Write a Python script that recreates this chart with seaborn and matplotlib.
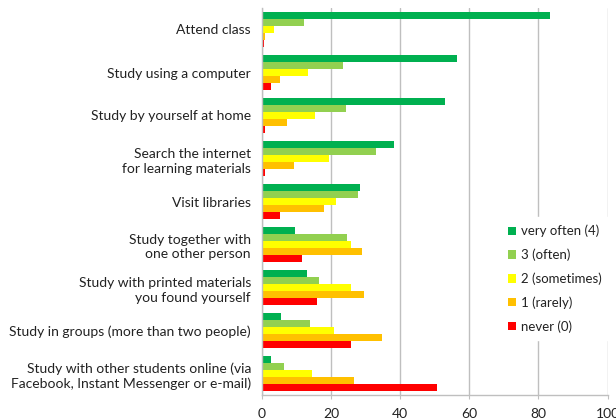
import matplotlib
matplotlib.use("Agg")
import matplotlib.pyplot as plt
import seaborn as sns
import pandas as pd
from matplotlib.patches import Patch

categories = [
    "Attend class",
    "Study using a computer",
    "Study by yourself at home",
    "Search the internet\nfor learning materials",
    "Visit libraries",
    "Study together with\none other person",
    "Study with printed materials\nyou found yourself",
    "Study in groups (more than two people)",
    "Study with other students online (via\nFacebook, Instant Messenger or e-mail)",
]
series_names = ["very often (4)", "3 (often)", "2 (sometimes)", "1 (rarely)", "never (0)"]
very_often = [83.3, 56.4, 53.0, 38.1, 28.5, 9.6, 12.9, 5.6, 2.6]
often = [12.2, 23.4, 24.4, 32.9, 27.8, 24.6, 16.6, 14.0, 6.4]
sometimes = [3.6, 13.2, 15.2, 19.4, 21.4, 25.9, 25.9, 20.8, 14.6]
rarely = [1.0, 5.3, 7.3, 9.2, 17.9, 29.0, 29.6, 34.7, 26.7]
never = [0.6, 2.5, 1.0, 1.0, 5.2, 11.6, 15.8, 25.8, 50.6]
colors = ["#00B050", "#92D050", "#FFFF00", "#FFC000", "#FF0000"]
xticks = [0, 20, 40, 60, 80, 100]

rows = []
for name, vals in zip(series_names, [very_often, often, sometimes, rarely, never]):
    for c, v in zip(categories, vals):
        rows.append({"category": c, "series": name, "value": v})
df = pd.DataFrame(rows)

sns.set_style("white")
plt.rcParams["font.family"] = ["Lato", "DejaVu Sans"]

fig = plt.figure(figsize=(6.16, 4.19), dpi=100)
ax = fig.add_axes([262 / 616, 1 - 395 / 419, (607.5 - 262) / 616, (395 - 8) / 419])

sns.barplot(data=df, y="category", x="value", hue="series", order=categories,
            hue_order=series_names, palette=colors, orient="h", width=0.8,
            ax=ax, legend=False, linewidth=0, saturation=1)

ax.set_xlim(0, 100)
ax.set_xticks(xticks)
ax.set_xticklabels([str(t) for t in xticks], fontsize=10, color="#222222")
ax.set_xlabel("")
ax.set_ylabel("")
ax.tick_params(axis="y", length=0, labelsize=10, labelcolor="#222222", pad=8)
ax.tick_params(axis="x", length=3, color="#BFBFBF", direction="out", pad=6, bottom=True)
for lbl in ax.get_yticklabels():
    lbl.set_horizontalalignment("right")
    lbl.set_multialignment("right")
    lbl.set_linespacing(1.3)

ax.grid(axis="x", color="#BFBFBF", linewidth=1)
ax.set_axisbelow(True)
for s in ["top", "right"]:
    ax.spines[s].set_visible(False)
for s in ["left", "bottom"]:
    ax.spines[s].set_color("#BFBFBF")
    ax.spines[s].set_linewidth(1)

handles = [Patch(facecolor=c, edgecolor="none") for c in colors]
leg = ax.legend(handles, series_names, loc="upper left",
                bbox_to_anchor=((500 - 262) / 345.5, 1 - (217 - 8) / 387),
                frameon=True, fontsize=9.5, handlelength=0.6, handleheight=0.6,
                handletextpad=0.4, labelspacing=0.85, borderpad=0.6,
                borderaxespad=0)
leg.get_frame().set_facecolor("white")
leg.get_frame().set_edgecolor("white")
leg.get_frame().set_alpha(1)
for t in leg.get_texts():
    t.set_color("#222222")

fig.savefig("out.png", dpi=100)
